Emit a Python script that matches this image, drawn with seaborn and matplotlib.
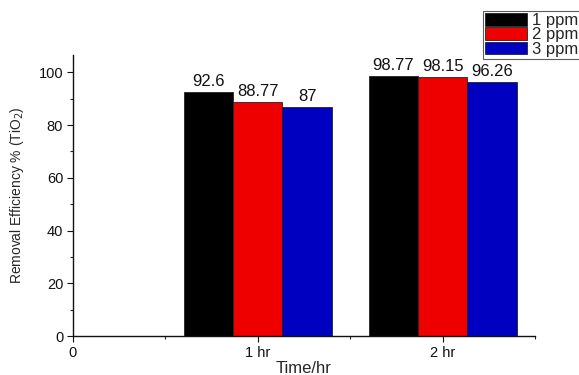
import matplotlib
matplotlib.use("Agg")
import matplotlib.pyplot as plt
import seaborn as sns
import pandas as pd
from matplotlib.ticker import MultipleLocator, FixedLocator

# Removal efficiency of TiO2 at each dose and contact time
times = ["1 hr", "1 hr", "1 hr", "2 hr", "2 hr", "2 hr"]
doses = ["1 ppm", "2 ppm", "3 ppm", "1 ppm", "2 ppm", "3 ppm"]
efficiency = [92.6, 88.77, 87, 98.77, 98.15, 96.26]
time_order = ["0", "1 hr", "2 hr"]
dose_order = ["1 ppm", "2 ppm", "3 ppm"]
palette = ["#000000", "#EE0000", "#0000C0"]

df = pd.DataFrame({"Time": times, "Dose": doses, "Efficiency": efficiency})

sns.set_style("ticks")
plt.rcParams["font.family"] = ["Liberation Sans", "DejaVu Sans"]

fig = plt.figure(figsize=(5.79, 3.75), dpi=100)
ax = fig.add_axes([0.126, 0.104, 0.798, 0.749])

sns.barplot(data=df, x="Time", y="Efficiency", hue="Dose", order=time_order,
            hue_order=dose_order, palette=palette, width=0.8, saturation=1,
            edgecolor="#222222", linewidth=0.6, ax=ax, legend=True)

for cont in ax.containers:
    vals = [f"{v:g}" for v in cont.datavalues]
    ax.bar_label(cont, labels=vals, padding=2, fontsize=12, color="#111111")

ax.set_xlim(0, 2.5)
ax.set_ylim(0, 106.5)
ax.yaxis.set_major_locator(MultipleLocator(20))
ax.yaxis.set_minor_locator(MultipleLocator(10))
ax.xaxis.set_minor_locator(FixedLocator([0.5, 1.5, 2.5]))
ax.tick_params(axis="both", which="major", direction="out", length=4, width=0.8,
               labelsize=10.5, colors="#111111", pad=3)
ax.tick_params(axis="both", which="minor", direction="out", length=2.5, width=0.8)
sns.despine(ax=ax)
for s in ("left", "bottom"):
    ax.spines[s].set_linewidth(1.0)
    ax.spines[s].set_color("#111111")

ax.set_xlabel("Time/hr", fontsize=12, labelpad=1)
ax.set_ylabel("Removal Efficiency % (TiO$_2$)", fontsize=10, labelpad=9)

handles, names = ax.get_legend_handles_labels()
ax.get_legend().remove()
leg = fig.legend(handles, names, loc="upper left",
                 bbox_to_anchor=(483 / 579, 1 - 11 / 375), frameon=True,
                 fontsize=12, handlelength=2.5, handleheight=0.78, borderpad=0.12,
                 labelspacing=-0.04, handletextpad=0.3, fancybox=False, borderaxespad=0)
leg.get_frame().set_edgecolor("#333333")
leg.get_frame().set_linewidth(0.8)

fig.savefig("out.png", dpi=100)
